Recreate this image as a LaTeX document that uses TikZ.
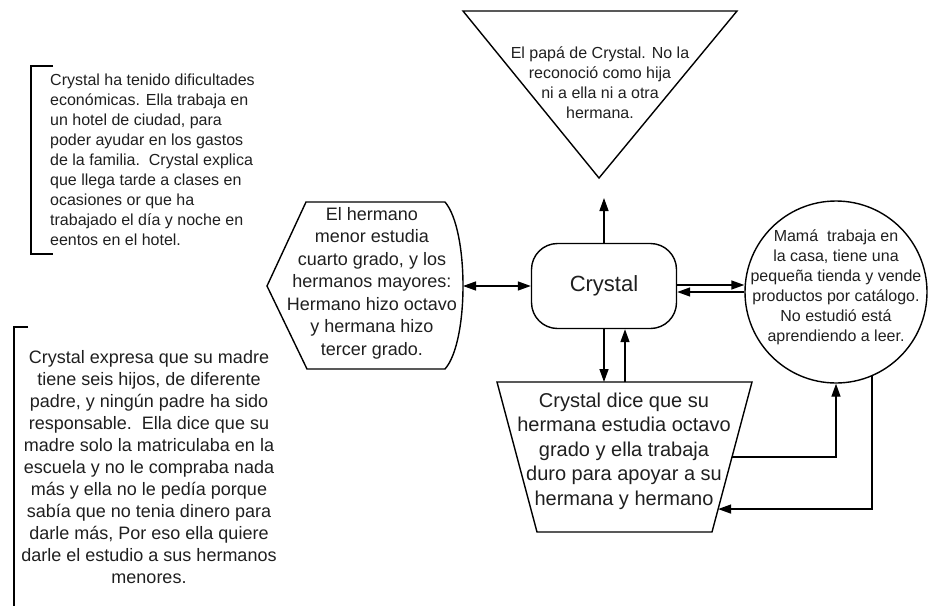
\documentclass[tikz,border=0pt]{standalone}
\usepackage{fontspec}
\setmainfont{Liberation Sans}
\usetikzlibrary{arrows.meta, positioning, calc}

\begin{document}
\begin{tikzpicture}[x=1pt, y=-1pt,
  every node/.style={text=black!88},
  shapeline/.style={draw, line width=1.4pt},
  body/.style={align=center, inner sep=0pt},
  small/.style={font=\fontsize{16}{20}\selectfont},
  medium/.style={font=\fontsize{18}{22.5}\selectfont},
  arrow/.style={-{Triangle[length=13pt, width=9pt]}, line width=1.4pt},
  bracket/.style={line width=1.4pt},
]
\useasboundingbox (0,0) rectangle (930,606);

% Central node
\node[shapeline, rounded corners=26pt, minimum width=145pt, minimum height=85pt, font=\fontsize{22}{26}\selectfont] (crystal) at (604,286) {Crystal};

% Father (inverted triangle)
\coordinate (papa nw) at (463,11);
\coordinate (papa ne) at (737,11);
\coordinate (papa tip) at (599,178);
\draw[shapeline] (papa nw) -- (papa ne) -- (papa tip) -- cycle;
\node[body, small] (papa) at (600,83) {El papá de Crystal. No la\\reconoció como hija\\ni a ella ni a otra\\hermana.};

% Brothers (display shape)
\coordinate (bros tip) at (267,286);
\coordinate (bros east) at (463,286);
\draw[shapeline] (bros tip) -- (306,202) -- (445,202) .. controls (469,230) and (469,342) .. (445,369) -- (307,369) -- cycle;
\node[body, medium] (bros) at (372,283) {El hermano\\menor estudia\\cuarto grado, y los\\hermanos mayores:\\Hermano hizo octavo\\y hermana hizo\\tercer grado.};

% Mother (circle)
\node[shapeline, circle, minimum size=182pt, inner sep=0pt] (mama) at (836,292) {};
\node[body, small] (mama text) at (836,287) {Mamá\ \ trabaja en\\la casa, tiene una\\pequeña tienda y vende\\productos por catálogo.\\No estudió está\\aprendiendo a leer.};

% Sister (trapezoid)
\coordinate (sis nw) at (497,382);
\coordinate (sis ne) at (752,382);
\coordinate (sis se) at (712,532);
\coordinate (sis sw) at (537,532);
\draw[shapeline] (sis nw) -- (sis ne) -- (sis se) -- (sis sw) -- cycle;
\node[body, font=\fontsize{20}{24.5}\selectfont] (sister) at (624,451) {Crystal dice que su\\hermana estudia octavo\\grado y ella trabaja\\duro para apoyar a su\\hermana y hermano};

% Side notes
\node[body, small, align=left, anchor=west] (work) at (50,160) {Crystal ha tenido dificultades\\económicas. Ella trabaja en\\un hotel de ciudad, para\\poder ayudar en los gastos\\de la familia.\ \ Crystal explica\\que llega tarde a clases en\\ocasiones or que ha\\trabajado el día y noche en\\eentos en el hotel.};
\draw[bracket] (53,66) -| (31,254) -- (53,254);

\node[body, font=\fontsize{18}{22}\selectfont] (family) at (149,467) {Crystal expresa que su madre\\tiene seis hijos, de diferente\\padre, y ningún padre ha sido\\responsable.\ \ Ella dice que su\\madre solo la matriculaba en la\\escuela y no le compraba nada\\más y ella no le pedía porque\\sabía que no tenia dinero para\\darle más, Por eso ella quiere\\darle el estudio a sus hermanos\\menores.};
\draw[bracket] (28,327) -| (14,606);

% Arrows
\coordinate (to mama) at ([yshift=1pt]crystal.east);
\coordinate (from mama) at ([yshift=-6pt]crystal.east);
\coordinate (from sis) at ([xshift=21pt]crystal.south);

\draw[arrow, shorten >=20pt] (crystal.north) -- (crystal.north |- papa tip);
\draw[arrow, {Triangle[length=13pt, width=9pt]}-{Triangle[length=13pt, width=9pt]}] (bros east) -- (crystal.west);
\draw[arrow] (to mama) -- (to mama -| mama.west);
\draw[arrow] (from mama -| mama.west) -- (from mama);
\draw[arrow] (crystal.south) -- (crystal.south |- sis nw);
\draw[arrow] (from sis |- sis nw) -- (from sis);
\draw[arrow] ($(sis ne)!0.5!(sis se)$) -| (mama.south);
\draw[arrow] (mama.-67) |- ($(sis ne)!0.847!(sis se)$);

\end{tikzpicture}
\end{document}
